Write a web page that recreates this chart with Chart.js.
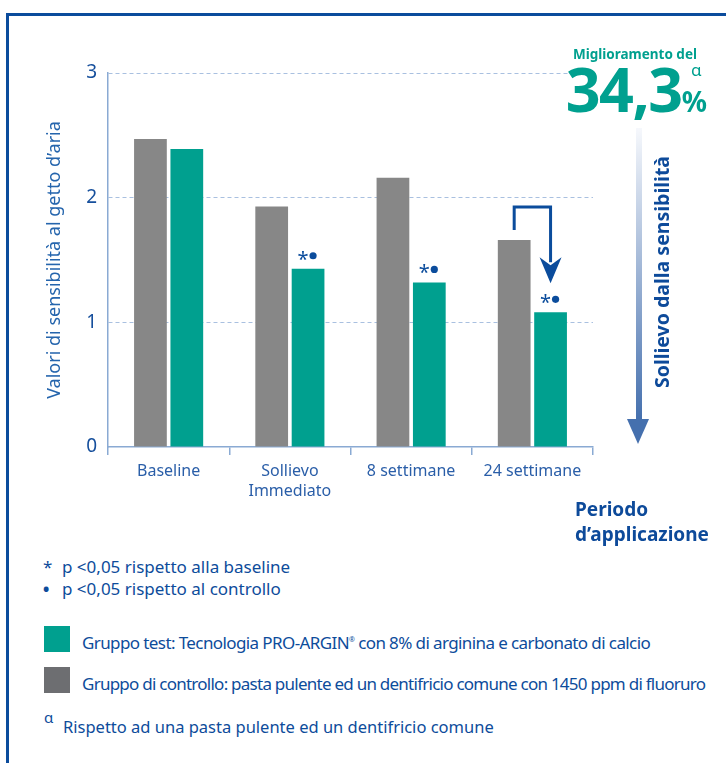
<!DOCTYPE html>
<html>
<head>
<meta charset="utf-8">
<script src="https://cdn.jsdelivr.net/npm/chart.js@4.4.1/dist/chart.umd.min.js"></script>
<style>
  html, body { margin: 0; padding: 0; background: #fff; }
  body { width: 726px; height: 763px; position: relative; overflow: hidden; font-family: "Noto Sans", sans-serif; color: #0d4c9b; }
  .frame { position: absolute; left: 6px; top: 13px; right: -10px; bottom: -10px; border-left: 3px solid #0b4c9c; border-top: 3px solid #0b4c9c; }
  #wrap { position: absolute; left: 0; top: 0; width: 726px; height: 510px; }
  .abs { position: absolute; white-space: nowrap; }
  .mig { right: 29px; top: 45px; font-weight: 700; font-size: 13.5px; color: #00a08f; }
  .big { right: 19px; top: 59px; line-height: 60px; font-weight: 700; font-size: 61px; color: #00a08f; letter-spacing: -1.5px; }
  .big .pct { font-size: 28px; letter-spacing: 0; }
  .alpha1 { left: 691px; top: 58px; font-size: 17px; color: #00a08f; }
  .shaft { position: absolute; left: 636px; top: 128px; width: 6px; height: 292px; background: linear-gradient(#f6f8fc, #4570ae); }
  .head { position: absolute; left: 627px; top: 419px; width: 0; height: 0; border-left: 11.5px solid transparent; border-right: 11.5px solid transparent; border-top: 25px solid #4570ae; }
  .relief { left: 532px; top: 260px; width: 260px; height: 24px; line-height: 24px; text-align: center; font-weight: 700; font-size: 19.5px; color: #0d4a9a; transform: rotate(-90deg); }
  .period { left: 575px; top: 497px; font-weight: 700; font-size: 19px; line-height: 25px; color: #0d4a9a; }
  .note { font-size: 17px; line-height: 22px; color: #0d4c9b; }
  .sym { font-size: 17px; line-height: 22px; color: #0d4c9b; }
  .box { position: absolute; left: 44px; width: 26px; height: 26px; }
</style>
</head>
<body>
<div class="frame"></div>
<div id="wrap"><canvas id="chart" width="726" height="510"></canvas></div>

<div class="abs mig">Miglioramento del</div>
<div class="abs big">34,3<span class="pct">%</span></div>
<div class="abs alpha1">α</div>
<div class="shaft"></div>
<div class="head"></div>
<div class="abs relief">Sollievo dalla sensibilità</div>
<div class="abs period">Periodo<br>d’applicazione</div>

<div class="abs sym" style="left:43px;top:556px;">*</div>
<div class="abs note" style="left:62px;top:556px;">p &lt;0,05 rispetto alla baseline</div>
<div class="abs sym" style="left:42px;top:577px;font-size:22px;">•</div>
<div class="abs note" style="left:62px;top:578px;">p &lt;0,05 rispetto al controllo</div>

<div class="box" style="top:626px;background:#00a08f;"></div>
<div class="abs note" style="left:82px;top:629px;letter-spacing:-0.6px;">Gruppo test: Tecnologia PRO-ARGIN<sup style="font-size:7px;">®</sup> con 8% di arginina e carbonato di calcio</div>
<div class="box" style="top:667px;background:#6d6e71;"></div>
<div class="abs note" style="left:82px;top:673px;letter-spacing:-0.75px;">Gruppo di controllo: pasta pulente ed un dentifricio comune con 1450 ppm di fluoruro</div>

<div class="abs" style="left:44px;top:707px;font-size:15px;">α</div>
<div class="abs note" style="left:63px;top:716px;font-size:16.5px;">Rispetto ad una pasta pulente ed un dentifricio comune</div>

<script>
// data
const categories = ['Baseline', ['Sollievo', 'Immediato'], '8 settimane', '24 settimane'];
const controlValues = [2.47, 1.93, 2.16, 1.66];
const testValues = [2.39, 1.43, 1.32, 1.08];
const testMarks = [false, true, true, true];   // "*•" above the test bar
const yTicks = [0, 1, 2, 3];

const FONT = '"Noto Sans", sans-serif';
const AXIS = '#8aaad3';
const INK = '#0b4c9c';

// "*•" above test bars + bracket arrow on last group
const marksPlugin = {
  id: 'marks',
  afterDatasetsDraw(chart) {
    const ctx = chart.ctx;
    const ctrl = chart.getDatasetMeta(0).data;
    const test = chart.getDatasetMeta(1).data;
    ctx.save();
    ctx.fillStyle = INK;
    ctx.textAlign = 'center';
    ctx.textBaseline = 'alphabetic';
    ctx.font = '20px ' + FONT;
    testMarks.forEach((m, i) => {
      if (!m) return;
      const b = test[i];
      ctx.fillText('*', b.x - 5, b.y - 3);
      ctx.beginPath();
      ctx.arc(b.x + 5, b.y - 13, 3.6, 0, Math.PI * 2);
      ctx.fill();
    });

    const last = ctrl.length - 1;
    const g = ctrl[last], t = test[last];
    const top = g.y - 33;
    ctx.strokeStyle = INK;
    ctx.lineWidth = 3;
    ctx.beginPath();
    ctx.moveTo(g.x, g.y - 10);
    ctx.lineTo(g.x, top);
    ctx.lineTo(t.x, top);
    ctx.lineTo(t.x, t.y - 50);
    ctx.stroke();
    ctx.beginPath();
    ctx.moveTo(t.x - 11, t.y - 55);
    ctx.lineTo(t.x, t.y - 47);
    ctx.lineTo(t.x + 11, t.y - 55);
    ctx.lineTo(t.x, t.y - 29);
    ctx.closePath();
    ctx.fill();
    ctx.restore();
  }
};

new Chart(document.getElementById('chart'), {
  type: 'bar',
  data: {
    labels: categories,
    datasets: [
      { label: 'Controllo', data: controlValues, backgroundColor: '#878787', categoryPercentage: 0.6, barPercentage: 0.9 },
      { label: 'Test', data: testValues, backgroundColor: '#00a08f', categoryPercentage: 0.6, barPercentage: 0.9 }
    ]
  },
  options: {
    responsive: false,
    animation: false,
    layout: { padding: { left: 0, right: 133, top: 73, bottom: 0 } },
    plugins: { legend: { display: false }, tooltip: { enabled: false } },
    scales: {
      x: {
        grid: { offset: true, drawOnChartArea: false, drawTicks: true, tickLength: 8, color: AXIS, lineWidth: 1.5 },
        border: { color: AXIS, width: 1.5 },
        ticks: { color: '#2a5ea8', font: { size: 16, family: FONT, lineHeight: 1.25 }, padding: 6 },
        afterFit(s) { s.height = 63; }
      },
      y: {
        min: 0, max: 3,
        afterBuildTicks(s) { s.ticks = yTicks.map(v => ({ value: v })); },
        grid: { color: c => c.tick.value === 0 ? 'rgba(0,0,0,0)' : '#a9c0e0', drawTicks: false, lineWidth: 1 },
        border: { color: AXIS, width: 1.5, dash: [4, 3] },
        ticks: { color: '#164f9c', font: { size: 19, family: FONT }, padding: 11 },
        title: { display: true, text: 'Valori di sensibilità al getto d’aria', color: '#2565ad', font: { size: 18, family: FONT }, padding: { top: 44, bottom: 0 } },
        afterFit(s) { s.width = 108; }
      }
    }
  },
  plugins: [marksPlugin]
});
</script>
</body>
</html>
